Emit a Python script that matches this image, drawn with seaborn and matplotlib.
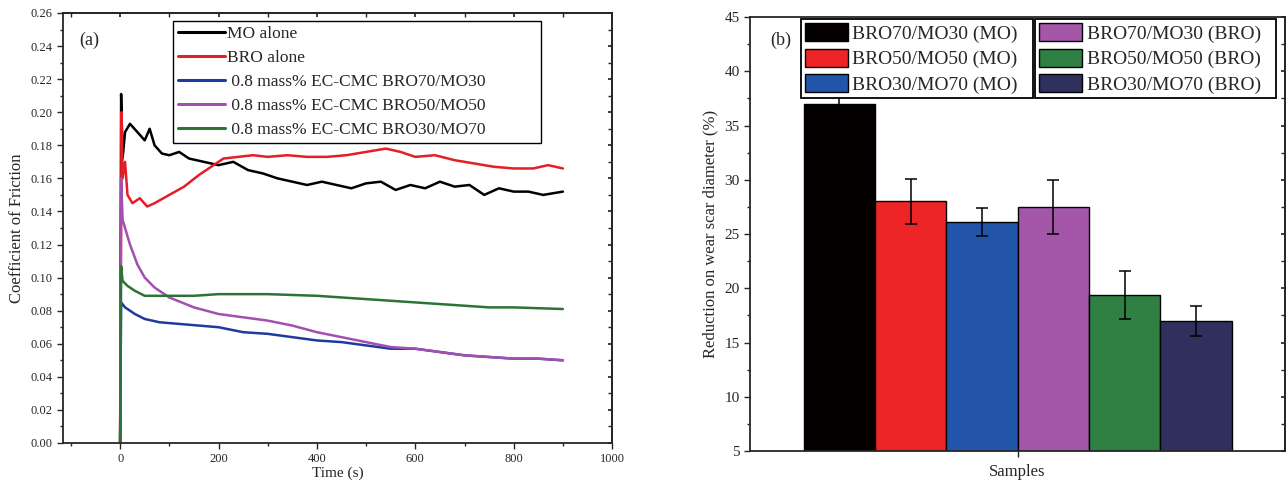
import numpy as np
import pandas as pd
import matplotlib
matplotlib.use("Agg")
import matplotlib.pyplot as plt
from matplotlib.ticker import MultipleLocator
import seaborn as sb

# ---- panel (a): coefficient of friction vs time
mo_t = [0, 2, 5, 10, 20, 35, 50, 60, 70, 85, 100, 120, 140, 170, 200, 230, 260, 290, 320, 350,
        380, 410, 440, 470, 500, 530, 560, 590, 620, 650, 680, 710, 740, 770, 800, 830, 860, 900]
mo_cof = [0.0, 0.211, 0.172, 0.188, 0.193, 0.188, 0.183, 0.190, 0.180, 0.175, 0.174, 0.176, 0.172,
          0.170, 0.168, 0.170, 0.165, 0.163, 0.160, 0.158, 0.156, 0.158, 0.156, 0.154, 0.157, 0.158,
          0.153, 0.156, 0.154, 0.158, 0.155, 0.156, 0.150, 0.154, 0.152, 0.152, 0.150, 0.152]

bro_t = [0, 3, 5, 10, 15, 25, 40, 55, 70, 100, 130, 160, 190, 210, 240, 270, 300, 340, 380, 420,
         460, 500, 540, 570, 600, 640, 680, 720, 760, 800, 840, 870, 900]
bro_cof = [0.0, 0.200, 0.160, 0.170, 0.150, 0.145, 0.148, 0.143, 0.145, 0.150, 0.155, 0.162, 0.168,
           0.172, 0.173, 0.174, 0.173, 0.174, 0.173, 0.173, 0.174, 0.176, 0.178, 0.176, 0.173, 0.174,
           0.171, 0.169, 0.167, 0.166, 0.166, 0.168, 0.166]

b70_t = [0, 2, 10, 30, 50, 80, 120, 160, 200, 250, 300, 350, 400, 450, 500, 550, 600, 650, 700,
         750, 800, 850, 900]
b70_cof = [0.0, 0.085, 0.082, 0.078, 0.075, 0.073, 0.072, 0.071, 0.070, 0.067, 0.066, 0.064, 0.062,
           0.061, 0.059, 0.057, 0.057, 0.055, 0.053, 0.052, 0.051, 0.051, 0.050]

b50_t = [0, 2, 5, 10, 20, 35, 50, 70, 100, 150, 200, 250, 300, 350, 400, 450, 500, 550, 600, 650,
         700, 750, 800, 850, 900]
b50_cof = [0.0, 0.160, 0.135, 0.130, 0.120, 0.108, 0.100, 0.094, 0.088, 0.082, 0.078, 0.076, 0.074,
           0.071, 0.067, 0.064, 0.061, 0.058, 0.057, 0.055, 0.053, 0.052, 0.051, 0.051, 0.050]

b30_t = [0, 2, 5, 15, 30, 50, 100, 150, 200, 300, 400, 450, 500, 550, 600, 650, 700, 750, 800, 900]
b30_cof = [0.0, 0.107, 0.098, 0.095, 0.092, 0.089, 0.089, 0.089, 0.090, 0.090, 0.089, 0.088, 0.087,
           0.086, 0.085, 0.084, 0.083, 0.082, 0.082, 0.081]

series_names = ["MO alone", "BRO alone", " 0.8 mass% EC-CMC BRO70/MO30",
                " 0.8 mass% EC-CMC BRO50/MO50", " 0.8 mass% EC-CMC BRO30/MO70"]
line_colors = ["#000000", "#e41e26", "#1f3a9e", "#a24fb0", "#2d7434"]

# ---- panel (b): reduction on wear scar diameter
bar_labels = ["BRO70/MO30 (MO)", "BRO50/MO50 (MO)", "BRO30/MO70 (MO)",
              "BRO70/MO30 (BRO)", "BRO50/MO50 (BRO)", "BRO30/MO70 (BRO)"]
bar_values = [37.0, 28.0, 26.1, 27.5, 19.4, 17.0]
bar_errors = [1.5, 2.1, 1.3, 2.5, 2.2, 1.4]
bar_colors = ["#050000", "#ee2527", "#2255aa", "#a456a8", "#2f8042", "#30305e"]

sb.set_theme(style="ticks")
plt.rcParams["font.family"] = ["Liberation Serif", "DejaVu Serif"]
plt.rcParams["axes.linewidth"] = 1.3

fig = plt.figure(figsize=(12.87, 4.92), dpi=100)
ax1 = fig.add_axes([0.049, 0.0996, 0.4266, 0.874])
ax2 = fig.add_axes([0.5828, 0.0833, 0.4157, 0.882])

# long table for lineplot
frames = []
for name, t, c in zip(series_names,
                      [mo_t, bro_t, b70_t, b50_t, b30_t],
                      [mo_cof, bro_cof, b70_cof, b50_cof, b30_cof]):
    frames.append(pd.DataFrame({"Time": t, "COF": c, "Sample": name}))
cof_df = pd.concat(frames, ignore_index=True)

sb.lineplot(data=cof_df, x="Time", y="COF", hue="Sample", hue_order=series_names,
            palette=line_colors, linewidth=1.8, estimator=None, sort=False,
            legend=False, ax=ax1)

ax1.set_xlim(-116, 1000)
ax1.set_ylim(0, 0.26)
ax1.xaxis.set_major_locator(MultipleLocator(200))
ax1.xaxis.set_minor_locator(MultipleLocator(100))
ax1.yaxis.set_major_locator(MultipleLocator(0.02))
ax1.yaxis.set_minor_locator(MultipleLocator(0.01))
ax1.set_yticklabels([f"{v:.2f}" for v in ax1.get_yticks()])
ax1.tick_params(axis="both", which="major", labelsize=9, length=4, width=1)
ax1.tick_params(axis="both", which="minor", length=2, width=1)
ax1.set_xlabel("Time (s)", fontsize=11, labelpad=1)
ax1.set_ylabel("Coefficient of Friction", fontsize=12, labelpad=4)
ax1.text(0.03, 0.937, "(a)", transform=ax1.transAxes, fontsize=13, va="center")

sec_x = ax1.secondary_xaxis("top")
sec_x.xaxis.set_major_locator(MultipleLocator(200))
sec_x.xaxis.set_minor_locator(MultipleLocator(100))
sec_x.tick_params(which="both", direction="in", labeltop=False, length=3)
sec_y = ax1.secondary_yaxis("right")
sec_y.yaxis.set_major_locator(MultipleLocator(0.02))
sec_y.yaxis.set_minor_locator(MultipleLocator(0.01))
sec_y.tick_params(which="both", direction="in", labelright=False, length=3)

leg1 = ax1.legend(ax1.lines[:5], series_names, loc="upper left",
                  bbox_to_anchor=(0.200, 0.0, 0.670, 0.982), mode="expand",
                  borderaxespad=0, fontsize=12.5,
                  frameon=True, fancybox=False, edgecolor="black", framealpha=1,
                  handlelength=2.7, labelspacing=0.45, borderpad=0.3,
                  handletextpad=0.12)
leg1.get_frame().set_linewidth(1.0)
for h in leg1.get_lines():
    h.set_linewidth(2.2)

# bar chart
bar_df = pd.DataFrame({"Group": ["Samples"] * len(bar_labels), "Sample": bar_labels,
                       "Reduction": bar_values})
sb.barplot(data=bar_df, x="Group", y="Reduction", hue="Sample", hue_order=bar_labels,
           palette=bar_colors, saturation=1, width=0.8, edgecolor="black", linewidth=1.0,
           errorbar=None, legend=False, ax=ax2)

bars = [p for p in ax2.patches][:len(bar_labels)]
for p, err in zip(bars, bar_errors):
    xc = p.get_x() + p.get_width() / 2
    ax2.errorbar(xc, p.get_height(), yerr=err, color="black", capsize=4,
                 elinewidth=1.1, capthick=1.1, zorder=3)

ax2.set_xlim(-0.5, 0.5)
ax2.set_ylim(5, 45)
ax2.yaxis.set_major_locator(MultipleLocator(5))
ax2.yaxis.set_minor_locator(MultipleLocator(2.5))
ax2.set_xticks([0])
ax2.set_xticklabels([""])
ax2.tick_params(axis="both", which="major", labelsize=11, length=4, width=1)
ax2.tick_params(axis="y", which="minor", length=2, width=1)
ax2.set_xlabel("Samples", fontsize=12, labelpad=2)
ax2.set_ylabel("Reduction on wear scar diameter (%)", fontsize=12, labelpad=4)
ax2.text(0.037, 0.947, "(b)", transform=ax2.transAxes, fontsize=13, va="center")

sec_y2 = ax2.secondary_yaxis("right")
sec_y2.yaxis.set_major_locator(MultipleLocator(5))
sec_y2.yaxis.set_minor_locator(MultipleLocator(2.5))
sec_y2.tick_params(which="both", direction="in", labelright=False, length=3)

handles = [plt.Rectangle((0, 0), 1, 1, facecolor=c, edgecolor="black", linewidth=1.0)
           for c in bar_colors]
leg_kw = dict(loc="upper left", mode="expand", borderaxespad=0, fontsize=14,
              fancybox=False, edgecolor="black", framealpha=1, handlelength=2.2,
              handleheight=1.05, labelspacing=0.3, borderpad=0.2, handletextpad=0.25)
legA = ax2.legend(handles[:3], bar_labels[:3], bbox_to_anchor=(0.095, 0.0, 0.434, 0.995),
                  **leg_kw)
legA.get_frame().set_linewidth(1.3)
ax2.add_artist(legA)
legB = ax2.legend(handles[3:], bar_labels[3:], bbox_to_anchor=(0.533, 0.0, 0.450, 0.995),
                  **leg_kw)
legB.get_frame().set_linewidth(1.3)

plt.savefig("out.png", dpi=100)
